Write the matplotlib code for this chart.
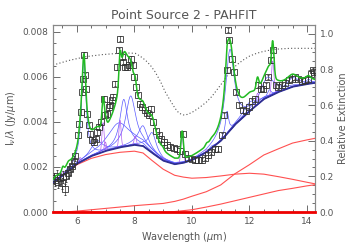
import numpy as np
import matplotlib
matplotlib.use("Agg")
import matplotlib.pyplot as plt
from matplotlib.ticker import MultipleLocator

# ---------------- data ----------------
DATA_WAVE = [5.19, 5.25, 5.30, 5.36, 5.42, 5.48, 5.53, 5.57, 5.62, 5.69, 5.77, 5.83, 5.89, 5.94,
             6.03, 6.08, 6.13, 6.17, 6.20, 6.24, 6.29, 6.31, 6.36, 6.41, 6.46, 6.52, 6.59, 6.65,
             6.71, 6.78, 6.85, 6.93, 6.99, 7.04, 7.10, 7.16, 7.22, 7.27, 7.33, 7.39, 7.45, 7.51,
             7.56, 7.62, 7.68, 7.74, 7.80, 7.87, 7.94, 7.99, 8.06, 8.13, 8.20, 8.27, 8.36, 8.44,
             8.52, 8.58, 8.66, 8.75, 8.84, 8.93, 9.03, 9.13, 9.25, 9.36, 9.48, 9.59,
             9.70, 9.76, 9.87, 9.99, 10.10, 10.22, 10.34, 10.45, 10.57, 10.68, 10.80, 10.92,
             11.03, 11.13, 11.21, 11.26, 11.29, 11.38, 11.46, 11.55, 11.65, 11.77, 11.88, 12.00,
             12.08, 12.19, 12.31, 12.39, 12.48, 12.58, 12.66, 12.74, 12.83, 12.93, 13.01, 13.13,
             13.24, 13.36, 13.47, 13.59, 13.70, 13.82, 13.94, 14.05, 14.13, 14.20, 14.26]
DATA_FLUX = [0.00150, 0.00140, 0.00162, 0.00132, 0.00150, 0.00128, 0.00155, 0.00100, 0.00160, 0.00175,
             0.00190, 0.00205, 0.00225, 0.00250,
             0.00340, 0.00392, 0.00444, 0.00532, 0.00592, 0.00696, 0.00607, 0.00547, 0.00436, 0.00384,
             0.00348, 0.00318, 0.00310, 0.00325, 0.00355, 0.00377, 0.00399, 0.00503, 0.00429, 0.00436,
             0.00466, 0.00473, 0.00496, 0.00510, 0.00570, 0.00644, 0.00718, 0.00770, 0.00688, 0.00666,
             0.00644, 0.00644, 0.00651, 0.00681, 0.00651, 0.00599, 0.00555, 0.00518, 0.00481, 0.00466,
             0.00451, 0.00441, 0.00429, 0.00459, 0.00399, 0.00358, 0.00340, 0.00325, 0.00310, 0.00299,
             0.00288, 0.00283, 0.00278, 0.00270,
             0.00348, 0.00259, 0.00239, 0.00236, 0.00229, 0.00229, 0.00229, 0.00239, 0.00251, 0.00266,
             0.00278, 0.00281, 0.00340, 0.00429, 0.00629, 0.00807, 0.00762, 0.00681, 0.00621, 0.00532,
             0.00473, 0.00451, 0.00447, 0.00466, 0.00491, 0.00503, 0.00565, 0.00548, 0.00548, 0.00562,
             0.00599, 0.00673, 0.00718, 0.00562, 0.00555, 0.00562, 0.00574, 0.00584, 0.00592, 0.00599,
             0.00592, 0.00580, 0.00584, 0.00592, 0.00614, 0.00629, 0.00621]
DATA_ERR = [0.00025] * 14 + [0.00012] * 54 + [0.00010] * 47

# dust continuum components (already extincted), on a common wavelength grid
CONT_WAVE = [5.17, 5.6, 6.0, 6.5, 7.0, 7.5, 8.0, 8.3, 8.6, 9.0, 9.4, 9.7, 10.0, 10.5,
             11.0, 11.5, 12.0, 12.5, 13.0, 13.5, 14.0, 14.28]
DUST_A = [0.00130, 0.00170, 0.00210, 0.00238, 0.00255, 0.00265, 0.00270, 0.00262, 0.00230, 0.00190,
          0.00163, 0.00155, 0.00150, 0.00153, 0.00160, 0.00168, 0.00172, 0.00168, 0.00157, 0.00145,
          0.00132, 0.00125]
DUST_B = [0.0, 0.0, 0.00004, 0.00010, 0.00016, 0.00022, 0.00028, 0.00031, 0.00034, 0.00038,
          0.00047, 0.00057, 0.00070, 0.00090, 0.00120, 0.00170, 0.00210, 0.00253, 0.00280, 0.00306,
          0.00320, 0.00327]
DUST_C = [0.0, 0.0, 0.0, 0.0, 0.0, 0.0, 0.0, 0.0, 0.0, 0.0,
          0.00002, 0.00006, 0.00010, 0.00022, 0.00035, 0.00050, 0.00065, 0.00080, 0.00095, 0.00105,
          0.00116, 0.00121]
STARS = [0.0] * 22

# dust features (Drude): centre, FWHM, peak above continuum
FEAT_CEN = [5.27, 5.70, 6.24, 6.69, 7.45, 7.63, 7.87, 8.30, 8.62, 10.68, 11.22, 11.32, 12.00, 12.63,
            12.69, 13.50, 14.05]
FEAT_FWHM = [0.18, 0.20, 0.19, 0.47, 0.94, 0.33, 0.42, 0.42, 0.34, 0.21, 0.13, 0.36, 0.54, 0.53,
             0.16, 0.54, 0.23]
FEAT_PEAK = [0.0001, 0.0002, 0.0044, 0.0006, 0.0011, 0.0021, 0.0022, 0.0009, 0.0009, 0.0001, 0.0010,
             0.0036, 0.0004, 0.0009, 0.0003, 0.0004, 0.0002]

# emission lines (Gaussian): centre, FWHM, peak
LINE_CEN = [5.51, 6.11, 6.91, 6.99, 7.50, 8.03, 8.99, 9.66, 10.51, 12.28, 12.81]
LINE_FWHM = [0.09, 0.09, 0.09, 0.09, 0.09, 0.09, 0.1, 0.1, 0.1, 0.1, 0.1]
LINE_PEAK = [0.0002, 0.0002, 0.0013, 0.0004, 0.0012, 0.0004, 0.0001, 0.0012, 0.0001, 0.0005, 0.0015]

# relative extinction (right axis)
EXT_WAVE = [5.17, 5.7, 6.3, 6.9, 7.45, 7.75, 8.03, 8.2, 8.38, 8.55, 8.72, 8.9, 9.07, 9.25, 9.42,
            9.55, 9.7, 9.85, 10.03, 10.25, 10.51, 10.7, 10.86, 11.1, 11.32, 11.55, 11.78, 12.0,
            12.25, 12.45, 12.71, 13.0, 13.41, 14.28]
EXT_VAL = [0.825, 0.850, 0.872, 0.884, 0.891, 0.893, 0.891, 0.875, 0.853, 0.825, 0.787, 0.735,
           0.675, 0.625, 0.581, 0.555, 0.545, 0.548, 0.562, 0.585, 0.618, 0.650, 0.684, 0.735,
           0.787, 0.825, 0.853, 0.875, 0.891, 0.900, 0.909, 0.915, 0.919, 0.919]

TITLE = "Point Source 2 - PAHFIT"
XLABEL = "Wavelength ($\\mu$m)"
YLABEL = "I$_\\nu$/$\\lambda$ (Jy/$\\mu$m)"
RLABEL = "Relative Extinction"

# ---------------- figure ----------------
GRAY = "#555555"
plt.rcParams["font.family"] = ["DejaVu Sans"]
plt.rcParams["mathtext.fontset"] = "dejavusans"

fig = plt.figure(figsize=(3.5, 2.5), dpi=100)
ax = fig.add_axes([53 / 350, 1 - 212 / 250, (315 - 53) / 350, (212 - 25) / 250])
XMIN, XMAX = 5.17, 14.28

lam = np.linspace(XMIN, XMAX, 1500)
cw = np.array(CONT_WAVE)
cont_nodes = np.array(DUST_A) + np.array(DUST_B) + np.array(DUST_C) + np.array(STARS)
cont = np.interp(lam, cw, cont_nodes)


def drude(x, c, fw, pk):
    fr = fw / c
    return pk * fr ** 2 / ((x / c - c / x) ** 2 + fr ** 2)


def gauss(x, c, fw, pk):
    s = fw / 2.3548
    return pk * np.exp(-0.5 * ((x - c) / s) ** 2)


total = cont.copy()
# red dust components
for arr in (DUST_A, DUST_B, DUST_C):
    ax.plot(CONT_WAVE, arr, color="#ff5050", lw=0.8, zorder=3)
ax.plot(CONT_WAVE, STARS, color="#ee0000", lw=2.0, zorder=3, clip_on=False)

for c, fw, pk in zip(FEAT_CEN, FEAT_FWHM, FEAT_PEAK):
    prof = drude(lam, c, fw, pk)
    total += prof
    m = prof > 2e-6
    ax.plot(lam[m], cont[m] + prof[m], color="#5a5aff", lw=0.5, zorder=4)

for c, fw, pk in zip(LINE_CEN, LINE_FWHM, LINE_PEAK):
    prof = gauss(lam, c, fw, pk)
    total += prof
    m = prof > 2e-6
    ax.plot(lam[m], cont[m] + prof[m], color="#b060f0", lw=0.5, zorder=4)

ax.plot(lam, cont, color="#303090", lw=1.3, zorder=5)

ax.errorbar(DATA_WAVE, DATA_FLUX, yerr=DATA_ERR, fmt="s", ms=4.2, mfc="none", mec="#333333",
            mew=0.6, ecolor="#333333", elinewidth=0.5, capsize=1.0, capthick=0.5, zorder=6)

ax.plot(lam, total, color="#22bb22", lw=1.1, zorder=7)

ax.set_xlim(XMIN, XMAX)
ax.set_ylim(0, 0.0083)
ax.xaxis.set_major_locator(MultipleLocator(2))
ax.xaxis.set_minor_locator(MultipleLocator(0.5))
ax.yaxis.set_major_locator(MultipleLocator(0.002))
ax.yaxis.set_minor_locator(MultipleLocator(0.0005))
ax.yaxis.set_major_formatter(matplotlib.ticker.FormatStrFormatter("%.3f"))
ax.tick_params(which="both", direction="in", top=True, right=False, colors=GRAY,
               labelsize=6.5, width=0.6)
ax.tick_params(which="major", length=5)
ax.tick_params(which="minor", length=2.5)
for s in ax.spines.values():
    s.set_color("#888888")
    s.set_linewidth(0.8)

ax.set_xlabel(XLABEL, color=GRAY, fontsize=7, labelpad=3)
ax.set_ylabel(YLABEL, color=GRAY, fontsize=7, labelpad=3)
ax.set_title(TITLE, color=GRAY, fontsize=9, pad=4)

ax2 = ax.twinx()
ax2.plot(EXT_WAVE, EXT_VAL, color="#555555", lw=0.8, ls=(0, (1, 2)), zorder=2)
ax2.set_ylim(0, 1.05)
ax2.set_xlim(XMIN, XMAX)
ax2.yaxis.set_major_locator(MultipleLocator(0.2))
ax2.yaxis.set_minor_locator(MultipleLocator(0.05))
ax2.yaxis.set_major_formatter(matplotlib.ticker.FormatStrFormatter("%.1f"))
ax2.tick_params(which="both", direction="in", colors=GRAY, labelsize=6.5, width=0.6)
ax2.tick_params(which="major", length=5)
ax2.tick_params(which="minor", length=2.5)
for s in ax2.spines.values():
    s.set_color("#888888")
    s.set_linewidth(0.8)
ax2.set_ylabel(RLABEL, color=GRAY, fontsize=7, labelpad=3)
ax.set_zorder(ax2.get_zorder() + 1)
ax.patch.set_visible(False)

fig.savefig("out.png", dpi=100)
